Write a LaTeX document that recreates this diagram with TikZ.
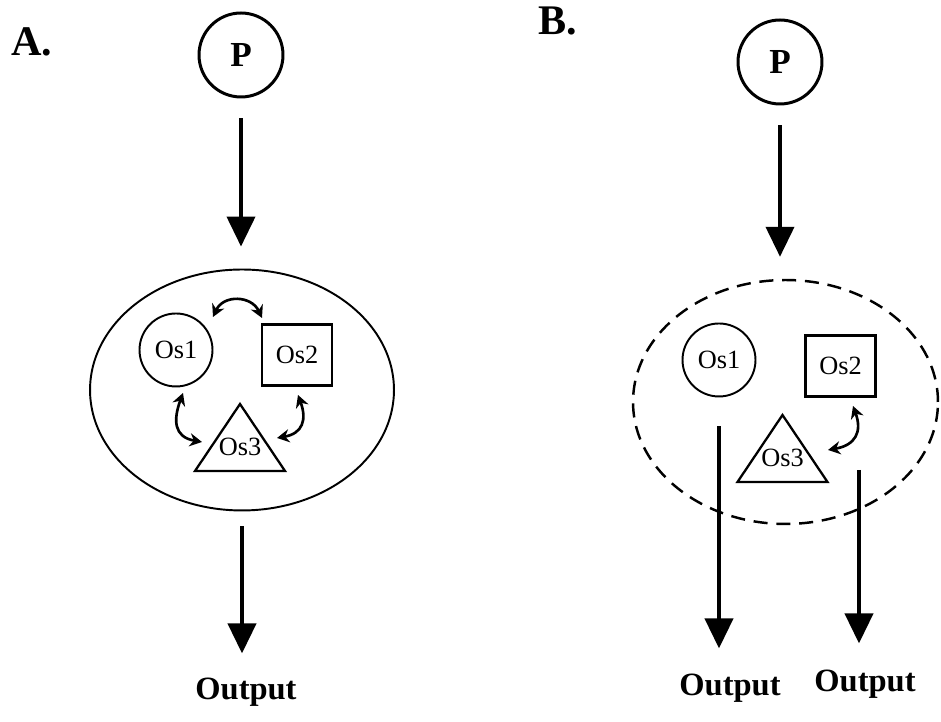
\documentclass[tikz,border=0pt]{standalone}
\usepackage{fontspec}
\setmainfont{Liberation Serif}
\usetikzlibrary{arrows.meta,calc,shapes.geometric}

\begin{document}
\begin{tikzpicture}[x=0.02cm, y=0.02cm,
    >={Triangle[length=0.6cm,width=0.56cm]},
    panel/.style={font=\fontsize{24}{28}\selectfont\bfseries},
    src/.style={draw, circle, line width=1.7pt, minimum size=1.68cm, inner sep=0pt, font=\fontsize{20}{22}\selectfont\bfseries},
    cell/.style={draw, ellipse, line width=1.1pt, minimum width=6.08cm, minimum height=4.82cm},
    osc/.style={draw, circle, line width=1.1pt, minimum size=1.46cm, inner sep=0pt, font=\fontsize{15}{17}\selectfont},
    osb/.style={draw, rectangle, line width=1.3pt, minimum width=1.4cm, minimum height=1.22cm, inner sep=0pt, font=\fontsize{15}{17}\selectfont},
    ost/.style={inner sep=0pt, font=\fontsize{15}{17}\selectfont},
    tri/.style={line width=1.3pt, line join=miter},
    res/.style={inner sep=0pt, font=\fontsize{18.5}{22}\selectfont\bfseries},
    flow/.style={->, line width=2.3pt},
    exch/.style={{Stealth[length=7pt,width=7.5pt]}-{Stealth[length=7pt,width=7.5pt]}, line width=1.5pt}]

  \useasboundingbox (0,0) rectangle (941,722);

  % panel A
  \node[panel] (labA) at (32,680) {A.};
  \node[src] (pA) at (241,667) {P};
  \node[cell] (cellA) at (242,332) {};
  \node[osc] (os1a) at (176,372) {Os1};
  \node[osb] (os2a) at (297,367) {Os2};
  \node[ost] (os3a) at (240,275) {Os3};
  \draw[tri] ($(os3a)+(0,43)$) -- ($(os3a)+(-45,-24)$) -- ($(os3a)+(45,-24)$) -- cycle;
  \node[res] (outA) at (246,30) {Output};

  \draw[flow, shorten <=0.4cm, shorten >=0.44cm] (pA) -- (pA |- cellA.north);
  \draw[flow, shorten <=0.3cm, shorten >=0.48cm] (cellA.south) -- (cellA.south |- outA.north);
  \draw[exch] ($(os1a)+(37,33)$) to[out=65,in=115,looseness=1.3] ($(os2a)+(-35,37)$);
  \draw[exch] ($(os1a)+(7,-43)$) to[out=250,in=170,looseness=1.4] ($(os3a)+(-38,5)$);
  \draw[exch] ($(os2a)+(1,-40)$) to[out=290,in=10,looseness=1.4] ($(os3a)+(37,9)$);

  % panel B
  \node[panel] (labB) at (558,701) {B.};
  \node[src] (pB) at (780,660) {P};
  \node[cell, dash pattern=on 8pt off 5pt, line width=1.4pt, minimum width=6.1cm, minimum height=4.88cm] (cellB) at (785.5,320) {};
  \node[osc] (os1b) at (719,362) {Os1};
  \node[osb] (os2b) at (840.5,356) {Os2};
  \node[ost] (os3b) at (782.5,264) {Os3};
  \draw[tri] ($(os3b)+(0,43)$) -- ($(os3b)+(-45,-24)$) -- ($(os3b)+(45,-24)$) -- cycle;
  \node[res] (outB1) at (730,34) {Output};
  \node[res] (outB2) at (865,38) {Output};
  \coordinate (foot2) at (859,252);

  \draw[flow, shorten <=0.4cm, shorten >=0.44cm] (pB) -- (pB |- cellB.north);
  \draw[flow, shorten <=0.58cm, shorten >=0.5cm] (os1b.south) -- (os1b.south |- outB1.north);
  \draw[flow, shorten >=0.52cm] (foot2) -- (foot2 |- outB2.north);
  \draw[exch] ($(os2b)+(12.5,-40)$) to[out=290,in=10,looseness=1.4] ($(os3b)+(45.5,8)$);
\end{tikzpicture}
\end{document}
